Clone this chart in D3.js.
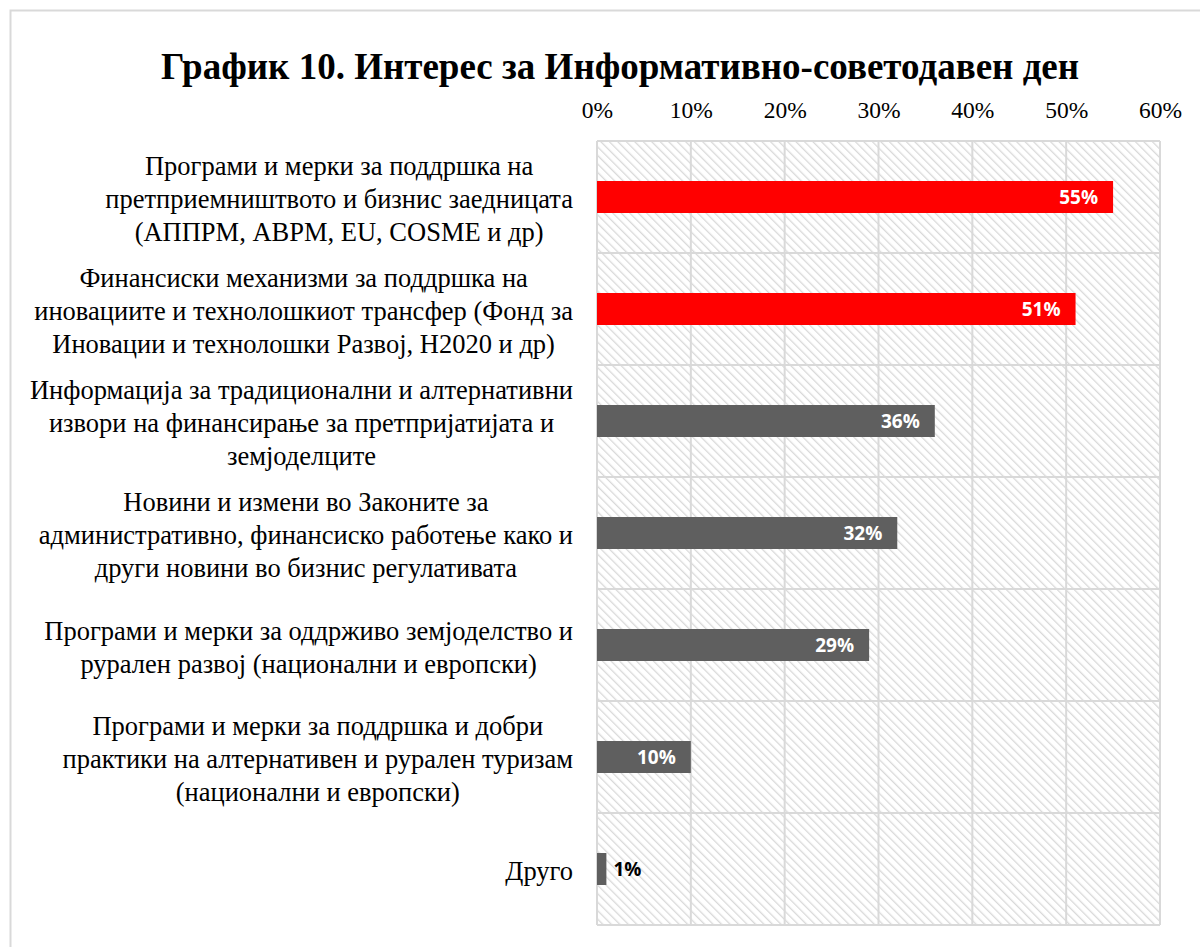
<!DOCTYPE html>
<html>
<head>
<meta charset="utf-8">
<script src="https://cdn.jsdelivr.net/npm/d3@7"></script>
<style>
  body { margin: 0; background: #fff; }
</style>
</head>
<body>
<svg id="chart" width="1200" height="947"></svg>
<script>
const svg = d3.select('#chart');

// data
const categories = [
    ['Програми и мерки за поддршка на', 'претприемништвото и бизнис заедницата', '(АППРМ, АВРМ, EU, COSME и др)'],
    ['Финансиски механизми за поддршка на', 'иновациите и технолошкиот трансфер (Фонд за', 'Иновации и технолошки Развој, H2020 и др)'],
    ['Информација за традиционални и алтернативни', 'извори на финансирање за претпријатијата и', 'земјоделците'],
    ['Новини и измени во Законите за', 'административно, финансиско работење како и', 'други новини во бизнис регулативата'],
    ['Програми и мерки за оддрживо земјоделство и', 'рурален развој (национални и европски)'],
    ['Програми и мерки за поддршка и добри', 'практики на алтернативен и рурален туризам', '(национални и европски)'],
    ['Друго']
];
const values = [0.55, 0.51, 0.36, 0.32, 0.29, 0.10, 0.01];
const highlighted = [true, true, false, false, false, false, false];
const tickValues = [0, 0.1, 0.2, 0.3, 0.4, 0.5, 0.6];
const title = 'График 10. Интерес за Информативно-советодавен ден';

const serif = '"Liberation Serif", "Times New Roman", serif';
const sans = '"Open Sans", "Noto Sans", sans-serif';

const plotLeft = 597, plotRight = 1160, plotTop = 141, plotBottom = 925;

// outer chart frame
svg.append('rect')
    .attr('x', 10.5).attr('y', 10.5)
    .attr('width', 1300).attr('height', 1300)
    .attr('fill', 'none')
    .attr('stroke', '#d9d9d9')
    .attr('stroke-width', 2);

// hatched plot background (downward diagonal)
const defs = svg.append('defs');
const pat = defs.append('pattern')
    .attr('id', 'hatch')
    .attr('patternUnits', 'userSpaceOnUse')
    .attr('width', 6).attr('height', 6)
    .attr('patternTransform', 'rotate(-45)');
pat.append('rect').attr('width', 6).attr('height', 6).attr('fill', '#fff');
pat.append('line')
    .attr('x1', 0).attr('y1', 0).attr('x2', 0).attr('y2', 6)
    .attr('stroke', '#d9d9d9')
    .attr('stroke-width', 2.6);

svg.append('rect')
    .attr('x', plotLeft).attr('y', plotTop)
    .attr('width', plotRight - plotLeft).attr('height', plotBottom - plotTop)
    .attr('fill', 'url(#hatch)');

const x = d3.scaleLinear().domain([0, 0.6]).range([plotLeft, plotRight]);
const y = d3.scaleBand().domain(d3.range(categories.length)).range([plotTop, plotBottom]);

// vertical gridlines
svg.append('g')
    .selectAll('line')
    .data(tickValues)
    .enter()
    .append('line')
    .attr('x1', d => x(d)).attr('x2', d => x(d))
    .attr('y1', plotTop).attr('y2', plotBottom)
    .attr('stroke', '#d9d9d9')
    .attr('stroke-width', 2);

// horizontal separators between categories
svg.append('g')
    .selectAll('line')
    .data(d3.range(categories.length + 1))
    .enter()
    .append('line')
    .attr('x1', plotLeft).attr('x2', plotRight)
    .attr('y1', d => plotTop + d * y.step()).attr('y2', d => plotTop + d * y.step())
    .attr('stroke', '#d9d9d9')
    .attr('stroke-width', 2);

// top axis
const axis = svg.append('g')
    .attr('transform', `translate(0,${plotTop})`)
    .call(d3.axisTop(x).tickValues(tickValues).tickFormat(d3.format('.0%')).tickSize(0).tickPadding(23));
axis.select('.domain').remove();
axis.selectAll('text')
    .attr('font-family', serif)
    .attr('font-size', 23.5)
    .attr('fill', '#000');

// bars
const barH = 32;
svg.append('g')
    .selectAll('rect')
    .data(values)
    .enter()
    .append('rect')
    .attr('x', x(0))
    .attr('y', (d, i) => y(i) + y.bandwidth() / 2 - barH / 2)
    .attr('width', d => x(d) - x(0))
    .attr('height', barH)
    .attr('fill', (d, i) => highlighted[i] ? '#ff0000' : '#5f5f5f');

// value labels
svg.append('g')
    .selectAll('text')
    .data(values)
    .enter()
    .append('text')
    .attr('x', d => d < 0.05 ? x(d) + 7 : x(d) - 15)
    .attr('y', (d, i) => y(i) + y.bandwidth() / 2 + 7)
    .attr('text-anchor', d => d < 0.05 ? 'start' : 'end')
    .attr('font-family', sans)
    .attr('font-weight', 'bold')
    .attr('font-size', 19)
    .attr('fill', d => d < 0.05 ? '#000' : '#fff')
    .text(d => d3.format('.0%')(d));

// category labels: each line centred, block flush against the axis
const lineH = 33;
const labelRight = 573;
categories.forEach((lines, i) => {
    const g = svg.append('g');
    const cy = y(i) + y.bandwidth() / 2 + 3;
    const texts = g.selectAll('text')
        .data(lines)
        .enter()
        .append('text')
        .attr('text-anchor', 'middle')
        .attr('font-family', serif)
        .attr('font-size', 26.5)
        .attr('fill', '#000')
        .attr('y', (d, j) => cy + (j - (lines.length - 1) / 2) * lineH + 8)
        .text(d => d);
    let maxW = 0;
    texts.each(function() { maxW = Math.max(maxW, this.getComputedTextLength()); });
    texts.attr('x', labelRight - maxW / 2);
});

// title
svg.append('text')
    .attr('x', 620)
    .attr('y', 79)
    .attr('text-anchor', 'middle')
    .attr('font-family', serif)
    .attr('font-weight', 'bold')
    .attr('font-size', 37)
    .attr('fill', '#000')
    .text(title);
</script>
</body>
</html>
